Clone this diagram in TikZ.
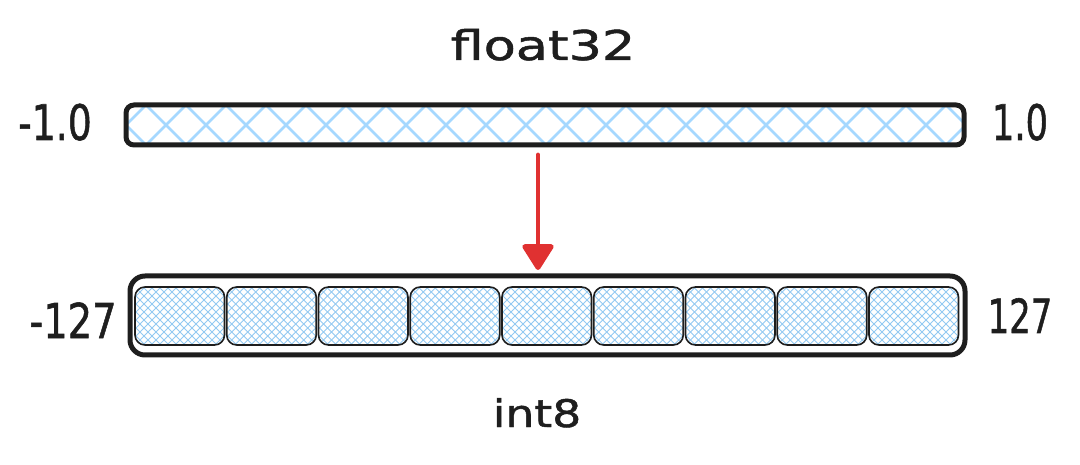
\documentclass[tikz,border=0pt]{standalone}
\usepackage{graphicx}
\usepackage{fontspec}
\newfontfamily\handfont[FakeBold=1.2]{DejaVu Sans}
\usetikzlibrary{arrows.meta}
\definecolor{ink}{HTML}{1E1E1E}
\definecolor{hatchblue}{HTML}{A5D8FF}
\definecolor{finehatch}{HTML}{92C9F2}
\definecolor{arrowred}{HTML}{E03131}
\newcommand{\lbltext}[3]{\scalebox{#1}[1]{\fontsize{#2}{#2}\selectfont #3}}
\tikzset{
  lbl/.style={anchor=base, inner sep=0pt, text=ink, font=\handfont},
  bigbar/.style={draw=ink, line width=5pt, rounded corners=8pt, inner sep=0pt, fill=white},
  outerbox/.style={draw=ink, line width=5pt, rounded corners=15pt, inner sep=0pt, fill=white},
  cellbox/.style={draw=ink, line width=1.6pt, rounded corners=10pt, inner sep=0pt,
    minimum width=89.5pt, minimum height=58pt},
  bighatch/.style={draw=hatchblue, line width=2.6pt},
  smallhatch/.style={draw=finehatch, line width=0.8pt},
  quant/.style={draw=arrowred, line width=4.8pt, line cap=round,
    -{Triangle[length=28pt,width=34pt,round]}}
}
\begin{document}
\begin{tikzpicture}[x=1pt,y=-1pt]
\useasboundingbox (0,0) rectangle (1080,465);
% top float bar
\node[bigbar, minimum width=838pt, minimum height=40pt,
  path picture={
    \foreach \xa in {-60,-20,...,860} {
      \draw[bighatch] ([xshift=\xa pt]path picture bounding box.north west) -- ++(40,40);
      \draw[bighatch] ([xshift=\xa pt]path picture bounding box.south west) -- ++(40,-40);
    }
  }] (fbar) at (545,125) {};
% bottom int box
\node[outerbox, minimum width=835pt, minimum height=79pt] (ibox) at (547.5,315.5) {};
% cells
\foreach \i in {0,...,8} {
  \node[cellbox,
    path picture={
      \foreach \xa in {-80,-72,...,100} {
        \draw[smallhatch] ([xshift=\xa pt]path picture bounding box.north west) -- ++(70,70);
        \draw[smallhatch] ([xshift=\xa pt]path picture bounding box.south west) -- ++(70,-70);
      }
    }] (c\i) at (179.75+\i*91.75,316) {};
}
% arrow
\coordinate (astart) at (538,155);
\coordinate (aend) at (538,270);
\draw[quant] (astart) -- (aend);
% labels
\node[lbl] (tfloat) at (543,60) {\lbltext{1.28}{41}{float32}};
\node[lbl] (tint) at (537,427) {\lbltext{1.2}{38}{int8}};
\node[lbl] (lminus1) at (55,140) {\lbltext{0.77}{49}{-1.0}};
\node[lbl] (lplus1) at (1020,140) {\lbltext{0.72}{49}{1.0}};
\node[lbl] (lminus127) at (73,338) {\lbltext{0.8}{48}{-127}};
\node[lbl] (lplus127) at (1020,333) {\lbltext{0.72}{47}{127}};
\end{tikzpicture}
\end{document}
